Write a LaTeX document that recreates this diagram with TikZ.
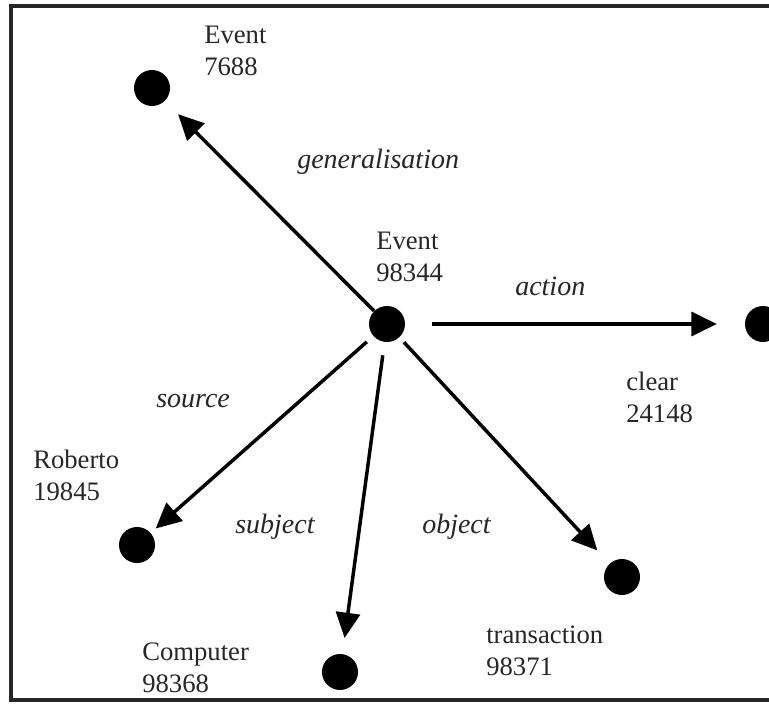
\documentclass[tikz,border=0pt]{standalone}
\usepackage{fontspec}
\setmainfont{Liberation Serif}
\usetikzlibrary{arrows.meta}
\newcommand{\twolines}[2]{\begin{tabular}[t]{@{}l@{}}#1\\#2\end{tabular}}
\begin{document}
\begin{tikzpicture}[x=0.75pt,y=-0.75pt,
  dot/.style={circle,fill=black,inner sep=0pt,minimum size=27pt},
  lbl/.style={anchor=base west,inner sep=0pt,font=\fontsize{20}{24}\selectfont,text=black!85},
  rel/.style={anchor=base west,inner sep=0pt,font=\fontsize{21}{24}\selectfont\itshape,text=black!85},
  arr/.style={line width=2.6pt,-{Triangle[length=19pt,width=18pt]}},
  frameline/.style={line width=2.6pt,draw=black!85}]
\useasboundingbox (0,0) rectangle (769,707);
\draw[frameline] (769,6) -- (11,6) -- (11,700) -- (769,700);

% dots
\node[dot] (c) at (387,324) {};
\node[dot] (gen) at (152,88) {};
\node[dot] (clear) at (763,324) {};
\node[dot] (rob) at (137,545) {};
\node[dot] (comp) at (340,672) {};
\node[dot] (trans) at (622,577) {};

% node labels
\node[lbl] (lc) at (376,249) {\twolines{Event}{98344}};
\node[lbl] (lgen) at (204,43) {\twolines{Event}{7688}};
\node[lbl] (lclear) at (626,390) {\twolines{clear}{24148}};
\node[lbl] (lrob) at (33,468) {\twolines{Roberto}{19845}};
\node[lbl] (lcomp) at (142,660) {\twolines{Computer}{98368}};
\node[lbl] (ltrans) at (486,643) {\twolines{transaction}{98371}};

% relation labels
\node[rel] (rgen) at (297,168) {generalisation};
\node[rel] (ract) at (515,295) {action};
\node[rel] (rsrc) at (156,407) {source};
\node[rel] (rsub) at (235,533) {subject};
\node[rel] (robj) at (422,533) {object};

% arrows
\draw[arr, shorten <=0pt, shorten >=14pt] (c) -- (gen);
\draw[arr, shorten <=20pt, shorten >=21pt] (c) -- (clear);
\draw[arr, shorten <=6.5pt, shorten >=5pt] (c) -- (rob);
\draw[arr, shorten <=10pt, shorten >=12pt] (c) -- (comp);
\draw[arr, shorten <=5pt, shorten >=13.5pt] (c) -- (trans);
\end{tikzpicture}
\end{document}
